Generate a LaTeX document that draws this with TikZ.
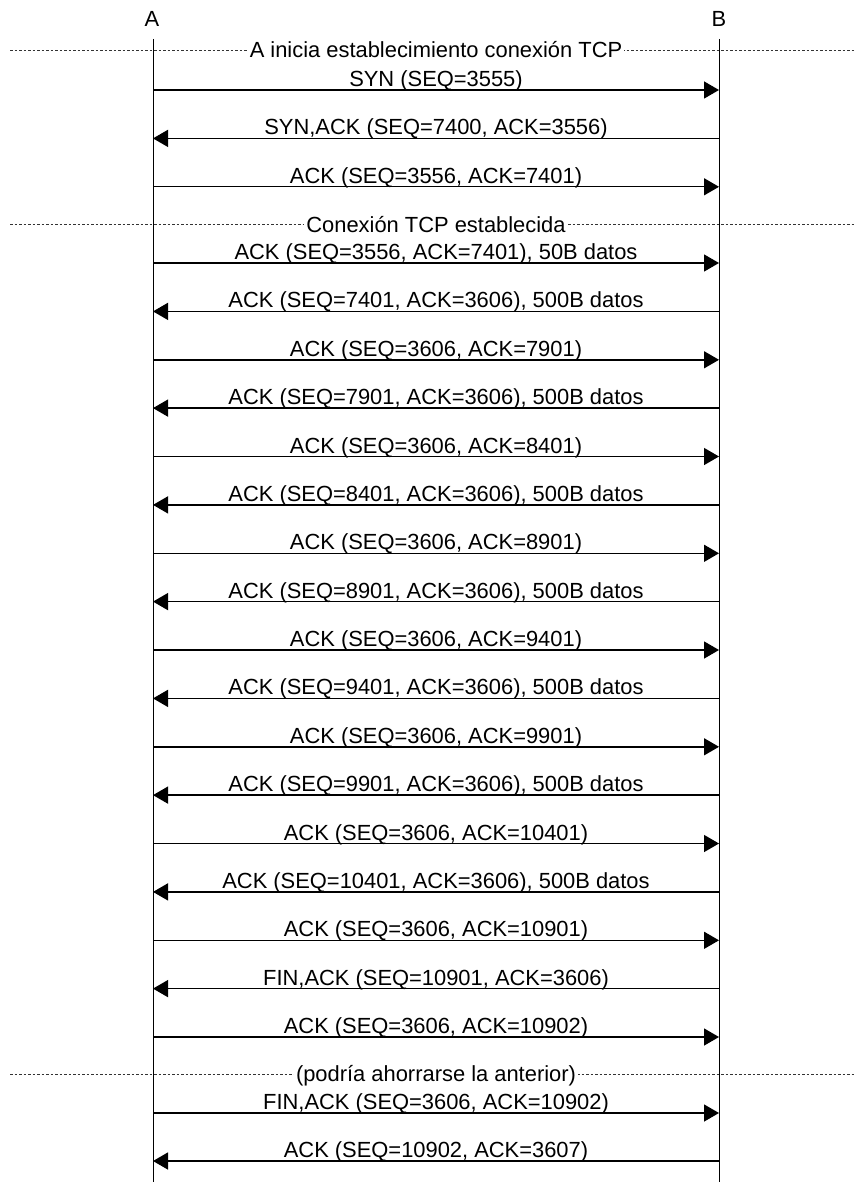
\documentclass[tikz,border=0pt]{standalone}
\usepackage{fontspec}
\setmainfont{Liberation Sans}
\usetikzlibrary{arrows.meta}
\begin{document}
\begin{tikzpicture}[x=1pt,y=-1pt,
  lifeline/.style={line width=1pt,draw=black},
  msg/.style={line width=1.4pt,draw=black,-{Triangle[length=15pt,width=17pt]}},
  lbl/.style={anchor=base,inner sep=0pt,font=\fontsize{21.9}{24}\selectfont},
  sepline/.style={line width=1pt,draw=black!80,dash pattern=on 2.5pt off 2pt},
  seplbl/.style={anchor=base,inner xsep=2pt,inner ysep=1pt,fill=white,font=\fontsize{21.9}{24}\selectfont},
  head/.style={anchor=base,inner sep=0pt,font=\fontsize{21.9}{24}\selectfont}]
\useasboundingbox[fill=white] (0,0) rectangle (854,1182);
% participants
\node[head] (A) at (152,26.5) {A};
\node[head] (B) at (719,26.5) {B};
\coordinate (Atop) at (153,39);
\coordinate (Abot) at (153,1182);
\coordinate (Btop) at (719,39);
\coordinate (Bbot) at (719,1182);
\draw[lifeline] (Atop) -- (Abot);
\draw[lifeline] (Btop) -- (Bbot);
% separators
\foreach \k/\y/\t in {1/50.5/{A inicia establecimiento conexión TCP},
                      2/225/{Conexión TCP establecida},
                      3/1074/{(podría ahorrarse la anterior)}} {
  \coordinate (sl\k) at (10,\y);
  \coordinate (sr\k) at (854,\y);
  \draw[sepline] (sl\k) -- (sr\k);
  \node[seplbl] (s\k) at (436,{\y+7.5}) {\t};
}
% messages A -> B
\foreach \i/\y/\t in {1/90/{SYN (SEQ=3555)},
  3/186.8/{ACK (SEQ=3556, ACK=7401)},
  4/263/{ACK (SEQ=3556, ACK=7401), 50B datos},
  6/359.8/{ACK (SEQ=3606, ACK=7901)},
  8/456.5/{ACK (SEQ=3606, ACK=8401)},
  10/553.3/{ACK (SEQ=3606, ACK=8901)},
  12/650/{ACK (SEQ=3606, ACK=9401)},
  14/746.8/{ACK (SEQ=3606, ACK=9901)},
  16/843.5/{ACK (SEQ=3606, ACK=10401)},
  18/940.3/{ACK (SEQ=3606, ACK=10901)},
  20/1037/{ACK (SEQ=3606, ACK=10902)},
  21/1113/{FIN,ACK (SEQ=3606, ACK=10902)}} {
  \coordinate (a\i) at (153,\y);
  \coordinate (b\i) at (719,\y);
  \draw[msg] (a\i) -- (b\i);
  \node[lbl] (m\i) at (436,{\y-3.5}) {\t};
}
% messages B -> A
\foreach \i/\y/\t in {2/138.4/{SYN,ACK (SEQ=7400, ACK=3556)},
  5/311.4/{ACK (SEQ=7401, ACK=3606), 500B datos},
  7/408.1/{ACK (SEQ=7901, ACK=3606), 500B datos},
  9/504.9/{ACK (SEQ=8401, ACK=3606), 500B datos},
  11/601.6/{ACK (SEQ=8901, ACK=3606), 500B datos},
  13/698.4/{ACK (SEQ=9401, ACK=3606), 500B datos},
  15/795.1/{ACK (SEQ=9901, ACK=3606), 500B datos},
  17/891.9/{ACK (SEQ=10401, ACK=3606), 500B datos},
  19/988.6/{FIN,ACK (SEQ=10901, ACK=3606)},
  22/1161/{ACK (SEQ=10902, ACK=3607)}} {
  \coordinate (a\i) at (153,\y);
  \coordinate (b\i) at (719,\y);
  \draw[msg] (b\i) -- (a\i);
  \node[lbl] (m\i) at (436,{\y-3.5}) {\t};
}
\end{tikzpicture}
\end{document}
